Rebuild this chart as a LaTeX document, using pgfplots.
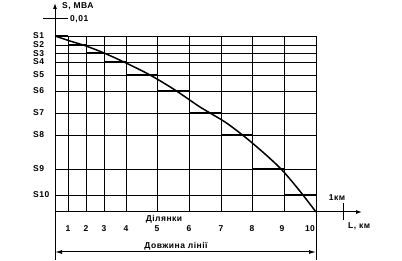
\documentclass[border=0pt]{standalone}
\usepackage{pgfplots}
\pgfplotsset{compat=1.18}
\usepackage{fontspec}
\setmainfont{Liberation Sans}[BoldFont={* Bold}]
\usetikzlibrary{arrows.meta}
\newcommand\lf{\fontsize{8.5}{9}\selectfont\bfseries\addfontfeature{LetterSpace=6}}
\tikzset{lbl/.style={font=\lf, inner sep=1pt}}
\begin{document}
\begin{tikzpicture}
\begin{axis}[
  width=402pt, height=261pt, scale only axis,
  xmin=0, xmax=402, ymin=0, ymax=261, y dir=reverse,
  enlargelimits=false, hide axis, clip=false,
]
\addplot[draw=none] coordinates {(0,0) (402,261)};
% vertical grid lines
\foreach \xx in {68,86,104,126,157,189,221,252,284,316} {
  \edef\tmp{\noexpand\addplot[black, line width=0.9pt] coordinates {(\xx,36) (\xx,212)};}
  \tmp
}
% horizontal grid lines
\foreach \yy in {36,45,53,62,75,91,113,135,169,195} {
  \edef\tmp{\noexpand\addplot[black, line width=0.9pt] coordinates {(55,\yy) (316,\yy)};}
  \tmp
}
% axes
\addplot[black, line width=1pt, -{Latex[length=6pt,width=4pt]}] coordinates {(55,260) (55,3)};
\addplot[black, line width=1pt, -{Latex[length=6pt,width=4pt]}] coordinates {(55,212) (362,212)};
\addplot[black, line width=1pt] coordinates {(316,212) (316,260)};
\addplot[black, line width=1pt] coordinates {(43,19) (68,19)};
\addplot[black, line width=1pt] coordinates {(343,203) (343,220)};
\addplot[black, line width=1pt, {Latex[length=7pt,width=4pt]}-{Latex[length=7pt,width=4pt]}] coordinates {(55,252) (316,252)};
% thick section segments
\addplot[black, line width=2.4pt] coordinates {(55,36) (68,36)};
\addplot[black, line width=2.4pt] coordinates {(68,45) (86,45)};
\addplot[black, line width=2.4pt] coordinates {(86,53) (104,53)};
\addplot[black, line width=2.4pt] coordinates {(104,62) (126,62)};
\addplot[black, line width=2.4pt] coordinates {(126,75) (157,75)};
\addplot[black, line width=2.4pt] coordinates {(157,91) (189,91)};
\addplot[black, line width=2.4pt] coordinates {(189,113) (221,113)};
\addplot[black, line width=2.4pt] coordinates {(221,135) (252,135)};
\addplot[black, line width=2.4pt] coordinates {(252,169) (284,169)};
\addplot[black, line width=2.4pt] coordinates {(284,195) (316,195)};
% curve
\addplot[black, line width=1.5pt, smooth] coordinates {
(55,36) (70,41) (86,46) (104,53) (126,63) (150,75) (175,90) (200,107)
(225,122) (245,137) (265,154) (282,170) (299,190) (316,212)};
% labels
\node[lbl, anchor=west] at (axis cs:61,6) {S, МВА};
\node[lbl, anchor=west] at (axis cs:69,19) {0,01};
\foreach \yy/\ll in {36/S1,44.5/S2,53.5/S3,62/S4,75/S5,91/S6,113/S7,135/S8,169/S9,195/S10} {
  \edef\tmp{\noexpand\node[lbl, anchor=west, inner sep=0pt] at (axis cs:33,\yy) {\ll};}
  \tmp
}
\foreach \xx/\ll in {68/1,86/2,104/3,126/4,157/5,189/6,221/7,252/8,282/9,310/10} {
  \edef\tmp{\noexpand\node[lbl] at (axis cs:\xx,229) {\ll};}
  \tmp
}
\node[lbl] at (axis cs:164,219) {Ділянки};
\node[lbl] at (axis cs:176,246) {Довжина лінії};
\node[lbl] at (axis cs:337,198) {1км};
\node[lbl, anchor=west] at (axis cs:347,226) {L, км};
\end{axis}
\end{tikzpicture}
\end{document}
